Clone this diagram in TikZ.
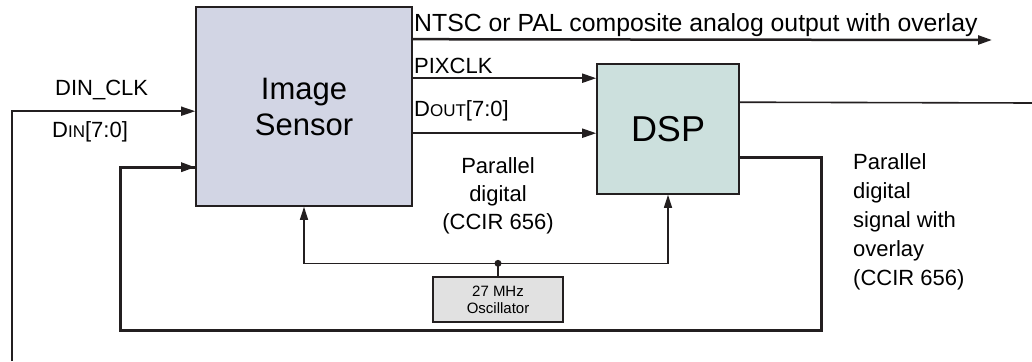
\documentclass[tikz,border=0pt]{standalone}
\usepackage{fontspec}
\setmainfont{Liberation Sans}
\usetikzlibrary{arrows.meta,calc}

\definecolor{sensorfill}{RGB}{210,213,228}
\definecolor{dspfill}{RGB}{204,224,221}
\definecolor{oscfill}{RGB}{225,225,225}
\definecolor{wire}{RGB}{35,31,32}

\begin{document}
\begin{tikzpicture}[x=1pt,y=-1pt,
    block/.style={draw=wire,line width=1.6pt,inner sep=0pt,align=center},
    sig/.style={wire,line width=2pt,-{Triangle[length=14pt,width=9pt]}},
    bus/.style={wire,line width=3pt},
    thinsig/.style={wire,line width=1.3pt},
    lbl/.style={inner sep=0pt,anchor=base west,font=\fontsize{22}{26}\selectfont}]
  \useasboundingbox (0,0) rectangle (1032,361);

  % Blocks
  \node[block,fill=sensorfill,minimum width=216pt,minimum height=199pt,
        font=\fontsize{31}{36}\selectfont] (sensor) at (304,106.5) {Image\\Sensor};
  \node[block,fill=dspfill,minimum width=142pt,minimum height=130pt,
        font=\fontsize{36}{40}\selectfont] (dsp) at (668,129) {DSP};
  \node[block,fill=oscfill,line width=1.3pt,minimum width=130pt,minimum height=45pt,
        font=\fontsize{15}{17}\selectfont] (osc) at (498,299.5) {27 MHz\\Oscillator};

  % Ports
  \coordinate (ntsc) at ($(sensor.north east)+(0,33)$);
  \coordinate (ntscend) at (992,40);
  \coordinate (pix) at ($(sensor.north east)+(0,72)$);
  \coordinate (dout) at ($(sensor.north east)+(0,127)$);
  \coordinate (clkin) at ($(sensor.north west)+(0,105)$);
  \coordinate (clksrc) at (12,361);
  \coordinate (din) at ($(sensor.north west)+(0,161)$);
  \coordinate (dspout) at ($(dsp.north east)+(0,39)$);
  \coordinate (dspend) at (1032,103);
  \coordinate (overlay) at ($(dsp.north east)+(0,94)$);
  \coordinate (loopR) at (821,330);
  \coordinate (loopL) at (120,330);
  \coordinate (tap) at ($(osc.north)+(0,-13)$);

  % Signals
  \draw[sig,line width=2.5pt] (ntsc) -- (ntscend);
  \draw[sig] (pix) -- (pix -| dsp.west);
  \draw[sig] (dout) -- (dout -| dsp.west);
  \draw[sig,line width=1.6pt] (clksrc) |- (clkin);
  \draw[wire,line width=1.6pt] (dspout) -- (dspend);
  \draw[bus] (overlay) -| (loopR) -- (loopL) |- (din);
  \draw[sig,line width=3pt] ($(din)+(-20,0)$) -- (din);

  % Clock
  \draw[thinsig] (osc.north) -- (tap);
  \fill[wire] (tap) circle (3.5pt);
  \draw[thinsig,-{Triangle[length=13pt,width=8pt]}] (tap) -| (sensor.south);
  \draw[thinsig,-{Triangle[length=13pt,width=8pt]}] (tap) -| (dsp.south);

  % Labels
  \node[lbl,font=\fontsize{24.8}{28}\selectfont] (ntsclbl) at (414,32) {NTSC or PAL composite analog output with overlay};
  \node[lbl] (pixlbl) at (414,73) {PIXCLK};
  \node[lbl] (doutlbl) at (414,116) {D{\fontsize{17}{20}\selectfont OUT}[7:0]};
  \node[lbl] (clklbl) at (55,95) {DIN\_CLK};
  \node[lbl] (dinlbl) at (52,137) {D{\fontsize{17}{20}\selectfont IN}[7:0]};
  \node[align=center,font=\fontsize{22}{28}\selectfont] (parlbl) at (498,196) {Parallel\\digital\\(CCIR 656)};
  \node[anchor=north west,inner sep=0pt,align=left,font=\fontsize{22}{29}\selectfont] (ovlbl) at (853,153)
    {Parallel\\digital\\signal with\\overlay\\(CCIR 656)};
\end{tikzpicture}
\end{document}
